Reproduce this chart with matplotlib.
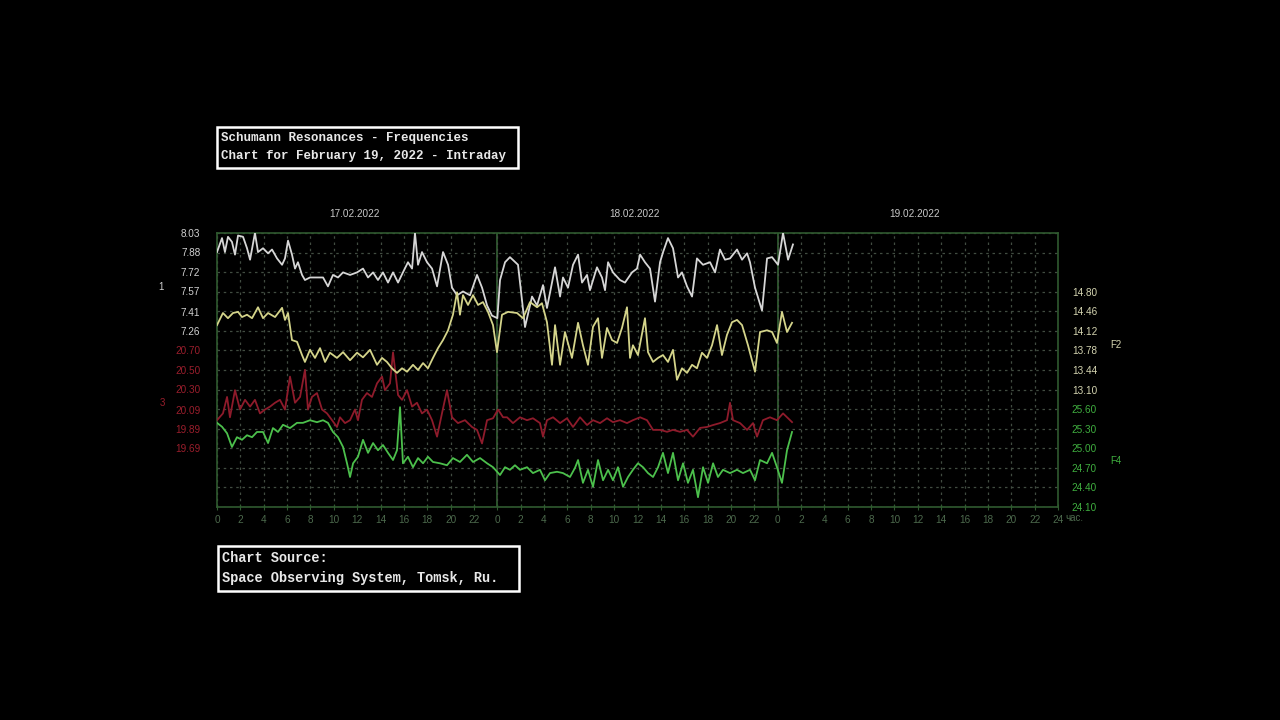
import matplotlib
matplotlib.use('Agg')
import matplotlib.pyplot as plt
from matplotlib.patches import Rectangle

# ---------------- data (hours since 17.02.2022 00:00) ----------------
f1_h = [0.0,0.43,0.68,0.94,1.28,1.54,1.80,2.23,2.57,2.83,3.25,3.51,3.94,4.37,4.71,5.14,5.57,5.82,6.08,6.42,6.68,6.93,7.28,7.53,7.96,8.56,9.08,9.50,9.93,10.36,10.79,11.39,11.99,12.50,12.93,13.36,13.78,14.21,14.64,15.07,15.50,15.92,16.35,16.70,16.95,17.21,17.55,17.98,18.41,18.84,19.35,19.78,20.12,20.55,21.06,21.66,22.26,22.69,23.12,23.54,24.0,24.23,24.66,25.08,25.77,26.37,26.97,27.40,27.91,28.25,28.94,29.37,29.62,30.05,30.48,30.91,31.25,31.68,31.93,32.53,32.96,33.22,33.48,33.90,34.50,34.93,35.53,35.96,36.22,36.64,37.07,37.50,37.93,38.19,38.61,39.04,39.47,39.81,40.24,40.67,41.09,41.61,42.21,42.64,43.06,43.49,43.92,44.52,44.95,45.38,45.63,46.06,46.66,47.09,47.52,48.03,48.46,48.89,49.31]
f1_v = [7.88,7.99,7.88,8.00,7.96,7.86,8.01,8.00,7.91,7.82,8.03,7.88,7.91,7.87,7.90,7.83,7.78,7.83,7.97,7.86,7.75,7.80,7.70,7.66,7.68,7.68,7.68,7.61,7.70,7.68,7.72,7.70,7.72,7.75,7.68,7.72,7.66,7.72,7.64,7.72,7.64,7.72,7.80,7.75,8.03,7.78,7.88,7.80,7.75,7.61,7.88,7.78,7.60,7.54,7.57,7.54,7.70,7.60,7.46,7.38,7.36,7.66,7.80,7.84,7.78,7.29,7.53,7.46,7.62,7.44,7.76,7.53,7.68,7.60,7.78,7.86,7.64,7.70,7.58,7.76,7.68,7.58,7.80,7.72,7.66,7.64,7.72,7.75,7.86,7.80,7.75,7.49,7.80,7.88,7.99,7.91,7.68,7.72,7.61,7.53,7.83,7.78,7.80,7.72,7.90,7.82,7.83,7.90,7.82,7.87,7.80,7.60,7.42,7.83,7.84,7.78,8.03,7.82,7.94]

f2_h = [0.0,0.51,0.94,1.37,1.80,2.14,2.57,3.00,3.51,3.94,4.37,4.97,5.57,5.82,6.08,6.42,6.85,7.28,7.53,7.96,8.39,8.82,9.25,9.67,10.27,10.79,11.39,11.99,12.50,13.10,13.70,14.13,14.55,14.98,15.41,15.84,16.27,16.78,17.21,17.64,18.06,18.49,18.92,19.35,19.78,20.20,20.55,20.80,21.06,21.49,21.92,22.35,22.77,23.20,23.63,23.97,24.40,24.92,25.69,26.20,26.80,27.40,27.82,28.25,28.68,28.94,29.37,29.79,30.39,30.91,31.33,31.76,32.19,32.62,32.96,33.39,33.82,34.25,34.67,35.10,35.36,35.61,36.04,36.64,36.90,37.33,37.76,38.18,38.61,39.04,39.38,39.81,40.24,40.67,41.09,41.52,41.95,42.38,42.81,43.23,43.66,44.09,44.52,44.95,45.46,46.06,46.49,47.09,47.52,47.94,48.37,48.80,49.23]
f2_v = [14.22,14.43,14.34,14.43,14.45,14.36,14.40,14.34,14.53,14.34,14.43,14.36,14.52,14.31,14.43,13.96,13.93,13.70,13.58,13.79,13.65,13.82,13.58,13.74,13.65,13.75,13.61,13.74,13.66,13.79,13.53,13.65,13.58,13.47,13.39,13.47,13.41,13.53,13.44,13.56,13.47,13.65,13.82,13.96,14.13,14.40,14.79,14.40,14.74,14.57,14.74,14.57,14.62,14.45,14.22,13.75,14.40,14.45,14.43,14.34,14.62,14.53,14.60,14.27,13.53,14.22,13.53,14.10,13.65,14.26,13.87,13.53,14.19,14.34,13.65,14.17,13.96,13.91,14.17,14.53,13.65,13.87,13.70,14.34,13.75,13.58,13.65,13.70,13.58,13.79,13.27,13.47,13.39,13.53,13.47,13.74,13.65,13.87,14.22,13.70,14.05,14.27,14.31,14.22,13.87,13.41,14.10,14.13,14.10,13.91,14.45,14.10,14.26]

f3_h = [0.0,0.51,0.86,1.11,1.54,1.97,2.40,2.83,3.25,3.68,4.11,4.54,4.97,5.39,5.82,6.25,6.68,7.11,7.53,7.79,8.13,8.56,8.99,9.42,9.85,10.27,10.53,10.96,11.39,11.81,12.07,12.41,12.84,13.27,13.70,14.13,14.38,14.81,15.07,15.50,15.84,16.27,16.70,17.12,17.55,17.98,18.41,18.84,19.26,19.69,20.12,20.63,21.23,21.83,22.26,22.69,23.12,23.63,24.06,24.49,24.83,25.34,25.94,26.54,27.05,27.65,27.91,28.25,28.77,29.37,29.96,30.48,31.08,31.68,32.19,32.79,33.39,33.90,34.50,35.10,35.61,36.22,36.81,37.33,37.93,38.53,39.04,39.64,40.24,40.75,41.35,41.95,42.47,43.06,43.66,43.92,44.18,44.78,45.38,45.89,46.23,46.74,47.34,47.94,48.46,48.89,49.23]
f3_v = [19.98,20.05,20.22,20.01,20.29,20.09,20.19,20.12,20.19,20.05,20.09,20.12,20.16,20.19,20.09,20.43,20.16,20.22,20.50,20.09,20.22,20.26,20.09,20.05,19.98,19.91,20.01,19.95,19.98,20.09,19.98,20.19,20.26,20.22,20.36,20.43,20.29,20.36,20.68,20.24,20.19,20.29,20.12,20.16,20.05,20.09,19.98,19.81,20.05,20.29,20.01,19.95,19.98,19.91,19.88,19.74,19.98,20.00,20.09,20.01,20.01,19.95,20.01,19.98,20.00,19.95,19.81,19.98,20.01,19.95,20.00,19.91,20.01,19.93,19.98,19.95,20.00,19.96,19.98,19.95,19.98,20.01,19.98,19.88,19.88,19.86,19.88,19.86,19.88,19.81,19.90,19.91,19.93,19.95,19.98,20.16,19.98,19.95,19.88,19.95,19.81,19.98,20.01,19.98,20.05,20.00,19.96]

f4_h = [0.0,0.43,0.86,1.28,1.71,2.14,2.57,3.00,3.42,3.94,4.37,4.79,5.22,5.65,6.25,6.85,7.36,7.96,8.56,9.08,9.50,9.93,10.36,10.79,11.13,11.39,11.65,12.07,12.50,12.93,13.36,13.78,14.21,14.64,15.07,15.41,15.67,15.92,16.35,16.78,17.21,17.64,18.06,18.49,19.09,19.69,20.20,20.80,21.40,21.92,22.52,23.12,23.63,24.23,24.66,25.08,25.51,25.94,26.54,27.05,27.65,28.08,28.51,29.11,29.62,30.22,30.65,30.91,31.33,31.76,32.19,32.62,33.05,33.48,33.90,34.33,34.76,35.19,35.61,36.04,36.47,36.90,37.33,37.76,38.18,38.61,39.04,39.47,39.90,40.32,40.75,41.18,41.61,42.04,42.47,42.89,43.32,43.92,44.52,45.03,45.63,46.06,46.49,47.09,47.52,47.94,48.37,48.80,49.23]
f4_v = [25.39,25.33,25.23,25.02,25.17,25.13,25.20,25.17,25.25,25.25,25.08,25.31,25.25,25.36,25.31,25.39,25.39,25.43,25.40,25.43,25.39,25.25,25.17,25.02,24.77,24.56,24.77,24.87,25.13,24.93,25.08,24.97,25.05,24.93,24.82,24.97,25.63,24.77,24.87,24.71,24.85,24.77,24.87,24.79,24.77,24.74,24.85,24.79,24.90,24.79,24.85,24.77,24.71,24.59,24.71,24.67,24.74,24.67,24.71,24.62,24.67,24.51,24.62,24.64,24.62,24.56,24.70,24.82,24.47,24.67,24.41,24.82,24.51,24.67,24.51,24.71,24.41,24.56,24.67,24.77,24.71,24.62,24.56,24.71,24.93,24.62,24.93,24.51,24.77,24.47,24.67,24.25,24.71,24.47,24.77,24.56,24.67,24.62,24.67,24.62,24.67,24.51,24.82,24.77,24.93,24.71,24.47,24.97,25.25]

# axis tick labels
f1_ticks = [8.03, 7.88, 7.72, 7.57, 7.41, 7.26]
f3_ticks = [20.70, 20.50, 20.30, 20.09, 19.89, 19.69]
f2_ticks = [14.80, 14.46, 14.12, 13.78, 13.44, 13.10]
f4_ticks = [25.60, 25.30, 25.00, 24.70, 24.40, 24.10]
hour_ticks = list(range(0, 73, 2))
hour_labels = [str(h % 24) if h < 72 else '24' for h in hour_ticks]
dates = ['17.02.2022', '18.02.2022', '19.02.2022']
title_lines = ['Schumann Resonances - Frequencies', 'Chart for February 19, 2022 - Intraday']
source_lines = ['Chart Source:', 'Space Observing System, Tomsk, Ru.']

# axis ranges (top value, value per grid row; 14 rows)
f1_top, f1_step = 8.03, 0.154
f2_top, f2_step = 15.82, 0.34
f3_top, f3_step = 21.912, 0.202
f4_top, f4_step = 28.30, 0.30
ROWS = 14

# ---------------- styling ----------------
BG = 'black'
C_W, C_Y, C_R, C_G = '#d6d6d6', '#d4d48a', '#8e1b2b', '#4cc04c'
LBL_W, LBL_Y, LBL_R, LBL_G = '#d0d0d0', '#d4d4b0', '#9a1e2c', '#3fae3f'
FRAME = '#2f5a2f'
GRID = '#414c41'
XLBL = '#4d6a4d'
NARROW = ['Liberation Sans Narrow', 'Liberation Sans', 'DejaVu Sans']
TYPE = ['Liberation Mono', 'DejaVu Sans Mono']

W, H = 1280, 720
fig = plt.figure(figsize=(12.8, 7.2), dpi=100, facecolor=BG)

def fx(px):
    return px / W

def fy(py):
    return 1 - py / H

ax = fig.add_axes([fx(217), fy(507), fx(1058) - fx(217), fy(233) - fy(507)])
ax.set_facecolor(BG)
ax.set_xlim(0, 72)
ax.set_ylim(0, ROWS)
ax.set_yticks(range(0, ROWS + 1))
ax.tick_params(axis='y', length=0, labelleft=False)
ax.set_xticks(hour_ticks)
ax.set_xticklabels(hour_labels, color=XLBL, fontsize=7.2, family=NARROW)
ax.tick_params(axis='x', direction='inout', length=5, width=0.8, color=FRAME, pad=3)
ax.grid(True, color=GRID, linestyle=(0, (2, 3)), linewidth=0.9)
for s in ax.spines.values():
    s.set_color(FRAME)
    s.set_linewidth(1.2)
for d in (24, 48):
    ax.axvline(d, color=FRAME, linewidth=1.3, zorder=1)


def twin(top, step, ticks, side, lcolor):
    t = ax.twinx()
    t.set_ylim(top - ROWS * step, top)
    for s in t.spines.values():
        s.set_visible(False)
    t.set_yticks(ticks)
    t.set_yticklabels(['%.2f' % v for v in ticks], color=lcolor, fontsize=7.2, family=NARROW)
    if side == 'left':
        t.tick_params(axis='y', length=0, left=False, right=False,
                      labelleft=True, labelright=False, pad=12)
    else:
        t.tick_params(axis='y', length=0, left=False, right=False,
                      labelleft=False, labelright=True, pad=10)
    t.grid(False)
    return t

a1 = twin(f1_top, f1_step, f1_ticks, 'left', LBL_W)
a3 = twin(f3_top, f3_step, f3_ticks, 'left', LBL_R)
a2 = twin(f2_top, f2_step, f2_ticks, 'right', LBL_Y)
a4 = twin(f4_top, f4_step, f4_ticks, 'right', LBL_G)

a3.plot(f3_h, f3_v, color=C_R, linewidth=1.3)
a4.plot(f4_h, f4_v, color=C_G, linewidth=1.3)
a2.plot(f2_h, f2_v, color=C_Y, linewidth=1.3)
a1.plot(f1_h, f1_v, color=C_W, linewidth=1.3)

# date labels above each day
for i, dname in enumerate(dates):
    ax.text(12 + 24 * i - 0.25, 1.07, dname, transform=ax.get_xaxis_transform(),
            ha='center', va='center', color='#c8c8c8', fontsize=7.2, family=NARROW)

fig.text(fx(1065), fy(518), 'час.', color=XLBL, fontsize=7, family=NARROW,
         ha='left', va='center')

# side letters
fig.text(fx(161), fy(287), '1', color=LBL_W, fontsize=7, family=NARROW, ha='center', va='center')
fig.text(fx(162), fy(403), '3', color=LBL_R, fontsize=7, family=NARROW, ha='center', va='center')
fig.text(fx(1110), fy(345), 'F2', color=LBL_Y, fontsize=7, family=NARROW, ha='left', va='center')
fig.text(fx(1110), fy(461), 'F4', color=LBL_G, fontsize=7, family=NARROW, ha='left', va='center')

# title and source boxes
def box(x0, y0, x1, y1, lines, ys, size):
    fig.patches.append(Rectangle((fx(x0), fy(y1)), fx(x1) - fx(x0), fy(y0) - fy(y1),
                                 transform=fig.transFigure, facecolor=BG,
                                 edgecolor='white', linewidth=1.8))
    for line, yy in zip(lines, ys):
        fig.text(fx(x0 + 4), fy(yy), line, color='#e8e8e8', fontsize=size,
                 family=TYPE, fontweight='bold', ha='left', va='center')

box(217, 127, 518, 168, title_lines, [138, 156], 9.0)
box(218, 546, 519, 591, source_lines, [558, 578], 9.8)

fig.savefig('out.png', dpi=100, facecolor=BG)
